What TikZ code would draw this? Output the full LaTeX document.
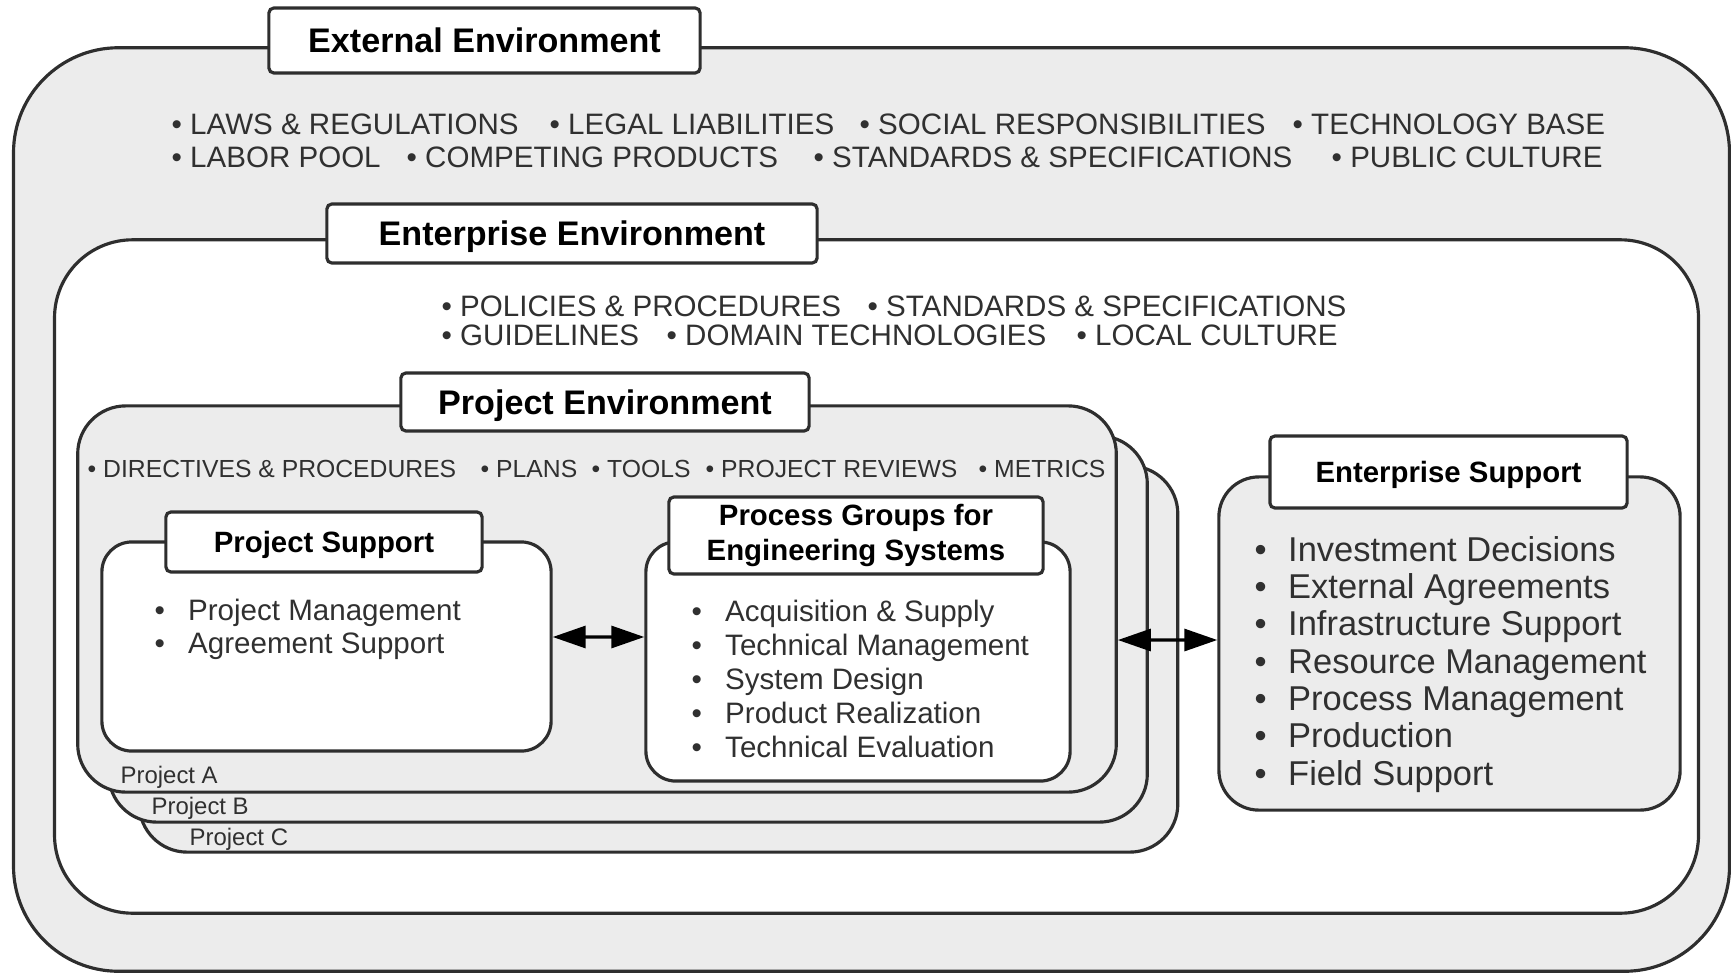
\documentclass[tikz,border=0pt]{standalone}
\usepackage{fontspec}
\setmainfont{Liberation Sans}
\usetikzlibrary{arrows.meta}

\definecolor{envgray}{HTML}{ECECEC}
\definecolor{linegray}{HTML}{2E2E2E}
\definecolor{txtgray}{HTML}{303030}

\newcommand{\itm}[1]{\makebox[0.335cm][l]{\textbullet}#1}

\begin{document}
\begin{tikzpicture}[x=0.01cm,y=-0.01cm,
    boxline/.style={draw=linegray,line width=0.9pt,inner sep=0pt},
    graybox/.style={boxline,fill=envgray},
    whitebox/.style={boxline,fill=white},
    bigtitle/.style={whitebox,rounded corners=0.05cm,text=black,
        font=\fontsize{9.7}{11}\selectfont\bfseries,text height=6.95pt,text depth=0pt},
    smalltitle/.style={whitebox,rounded corners=0.05cm,text=black,
        font=\fontsize{8.35}{10}\selectfont\bfseries},
    capsline/.style={anchor=base west,inner sep=0pt,text=txtgray,
        font=\fontsize{8.4}{10}\selectfont},
    itemlist/.style={anchor=base west,inner sep=0pt,align=left,text=txtgray},
    biarrow/.style={{Triangle[length=3.3mm,width=2.2mm]}-{Triangle[length=3.3mm,width=2.2mm]},
        draw=black,line width=0.9pt}]
    \useasboundingbox (0,0) rectangle (1731,973);

    % environments
    \node[graybox,rounded corners=1.05cm,minimum width=17.15cm,minimum height=9.23cm] (external) at (871.5,509.5) {};
    \node[whitebox,rounded corners=0.78cm,minimum width=16.43cm,minimum height=6.73cm] (enterprise) at (876.5,576.5) {};

    % project stack, back to front
    \begin{scope}[every node/.style={graybox,rounded corners=0.48cm,minimum width=10.38cm,minimum height=3.86cm}]
        \node (projC) at (658.5,659) {};
        \node (projB) at (628,629) {};
        \node (projA) at (597,599) {};
    \end{scope}
    \begin{scope}[every node/.style={anchor=base west,inner sep=0pt,text=txtgray,font=\fontsize{6.8}{8}\selectfont}]
        \node (labA) at (120,783) {Project A};
        \node (labB) at (151,814) {Project B};
        \node (labC) at (189,845) {Project C};
    \end{scope}

    % inner boxes
    \node[whitebox,rounded corners=0.3cm,minimum width=4.49cm,minimum height=2.09cm] (psbox) at (326.5,646.5) {};
    \node[whitebox,rounded corners=0.3cm,minimum width=4.24cm,minimum height=2.39cm] (pgbox) at (858,661.5) {};
    \node[graybox,rounded corners=0.4cm,minimum width=4.61cm,minimum height=3.33cm] (esbox) at (1449.5,643.5) {};

    % titles
    \node[bigtitle,minimum width=4.31cm,minimum height=0.65cm] (exttitle) at (484.5,40.5) {External Environment};
    \node[bigtitle,minimum width=4.90cm,minimum height=0.59cm] (enttitle) at (572,233.5) {Enterprise Environment};
    \node[bigtitle,minimum width=4.08cm,minimum height=0.58cm] (prjtitle) at (605,402) {Project Environment};
    \node[smalltitle,minimum width=3.16cm,minimum height=0.60cm,text height=6pt,text depth=0pt] (pstitle) at (324,542) {Project Support};
    \node[smalltitle,minimum width=3.74cm,minimum height=0.77cm,align=center] (pgtitle) at (856,535.5) {Process Groups for\\Engineering Systems};
    \node[smalltitle,minimum width=3.57cm,minimum height=0.72cm,text height=6pt,text depth=0pt] (estitle) at (1448.5,472) {Enterprise Support};

    % external factors
    \begin{scope}[every node/.style={capsline}]
        \node (ext1) at (171,134.5) {\textbullet{} LAWS \& REGULATIONS};
        \node (ext2) at (549,134.5) {\textbullet{} LEGAL LIABILITIES};
        \node (ext3) at (859,134.5) {\textbullet{} SOCIAL RESPONSIBILITIES};
        \node (ext4) at (1292,134.5) {\textbullet{} TECHNOLOGY BASE};
        \node (ext5) at (171,167.5) {\textbullet{} LABOR POOL};
        \node (ext6) at (406,167.5) {\textbullet{} COMPETING PRODUCTS};
        \node (ext7) at (813,167.5) {\textbullet{} STANDARDS \& SPECIFICATIONS};
        \node (ext8) at (1331,167.5) {\textbullet{} PUBLIC CULTURE};
    % enterprise factors
        \node (ent1) at (441,316.5) {\textbullet{} POLICIES \& PROCEDURES};
        \node (ent2) at (867,316.5) {\textbullet{} STANDARDS \& SPECIFICATIONS};
        \node (ent3) at (441,345.5) {\textbullet{} GUIDELINES};
        \node (ent4) at (666,345.5) {\textbullet{} DOMAIN TECHNOLOGIES};
        \node (ent5) at (1076,345.5) {\textbullet{} LOCAL CULTURE};
    \end{scope}
    % project factors
    \begin{scope}[every node/.style={capsline,font=\fontsize{7.03}{8}\selectfont}]
        \node (prj1) at (87,477) {\textbullet{} DIRECTIVES \& PROCEDURES};
        \node (prj2) at (480,477) {\textbullet{} PLANS};
        \node (prj3) at (591,477) {\textbullet{} TOOLS};
        \node (prj4) at (705,477) {\textbullet{} PROJECT REVIEWS};
        \node (prj5) at (978,477) {\textbullet{} METRICS};
    \end{scope}

    % box contents (anchored on the last line)
    \node[itemlist,font=\fontsize{8.4}{9.4}\selectfont] (psitems) at (154,653.5)
        {\itm{Project Management}\\\itm{Agreement Support}};
    \node[itemlist,font=\fontsize{8.4}{9.6}\selectfont] (pgitems) at (691,757)
        {\itm{Acquisition \& Supply}\\\itm{Technical Management}\\\itm{System Design}\\
         \itm{Product Realization}\\\itm{Technical Evaluation}};
    \node[itemlist,font=\fontsize{9.8}{10.6}\selectfont] (esitems) at (1254,785)
        {\itm{Investment Decisions}\\\itm{External Agreements}\\\itm{Infrastructure Support}\\
         \itm{Resource Management}\\\itm{Process Management}\\\itm{Production}\\\itm{Field Support}};

    % links
    \draw[biarrow] ([yshift=0.095cm]psbox.east) -- ([yshift=0.245cm]pgbox.west);
    \draw[biarrow] ([yshift=-0.41cm]projA.east) -- ([yshift=0.035cm]esbox.west);
\end{tikzpicture}
\end{document}
